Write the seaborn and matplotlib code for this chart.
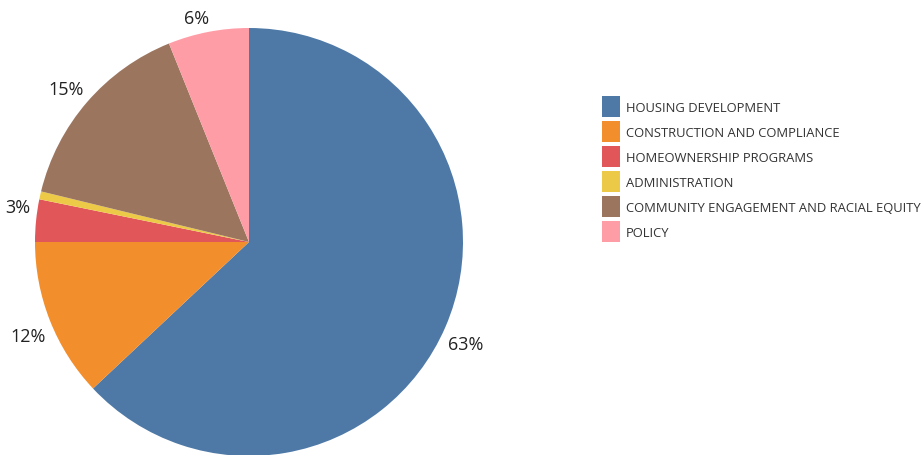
import matplotlib
matplotlib.use("Agg")
import matplotlib.pyplot as plt
from matplotlib.patches import Patch
import numpy as np
import seaborn as sns

# budget share per program area (percent)
categories = ["HOUSING DEVELOPMENT", "CONSTRUCTION AND COMPLIANCE",
              "HOMEOWNERSHIP PROGRAMS", "ADMINISTRATION",
              "COMMUNITY ENGAGEMENT AND RACIAL EQUITY", "POLICY"]
shares = [63.0, 12.0, 3.2, 0.6, 15.1, 6.1]
colors = ["#4e79a7", "#f28e2b", "#e15759", "#edc948", "#9c755f", "#ff9da7"]
# small angular nudges (deg) for the outside labels, like the original layout
label_nudge = [-1.8, 1.4, -2.8, 0, 0.9, 2.3]

sns.set_theme(style="white")
plt.rcParams["font.family"] = ["Open Sans", "DejaVu Sans"]
palette = sns.color_palette(colors)

fig = plt.figure(figsize=(9.23, 4.56), dpi=100)
# pie centre at (249, 243) px, radius 214 px
ax = fig.add_axes([35 / 923, -1 / 456, 428 / 923, 428 / 456])

wedges, _ = ax.pie(shares, colors=palette, startangle=90, counterclock=False,
                   radius=1, wedgeprops={"linewidth": 0})
ax.set_xlim(-1, 1)
ax.set_ylim(-1, 1)
ax.set_aspect("equal")
ax.axis("off")

# percent labels outside the pie, text box kept a small gap off the rim
gap = 0.035
half_h = 0.03
for w, val, nudge in zip(wedges, shares, label_nudge):
    if val < 1:
        continue
    txt = f"{val:.0f}%"
    half_w = 0.027 * len(txt)
    ang = np.deg2rad((w.theta1 + w.theta2) / 2 + nudge)
    c, s = np.cos(ang), np.sin(ang)
    r = 1 + gap + abs(c) * half_w + abs(s) * half_h
    ax.text(r * c, r * s, txt, ha="center", va="center",
            fontsize=13, color="#222222", clip_on=False)

handles = [Patch(facecolor=c, edgecolor="none") for c in palette]
fig.legend(handles, categories, loc="upper left",
           bbox_to_anchor=(602 / 923, 1 - 97 / 456), frameon=False,
           fontsize=9.4, handlelength=1.38, handleheight=2.08,
           handletextpad=0.45, labelspacing=0.32, borderpad=0,
           borderaxespad=0, labelcolor="#333333")

fig.savefig("out.png", dpi=100)
